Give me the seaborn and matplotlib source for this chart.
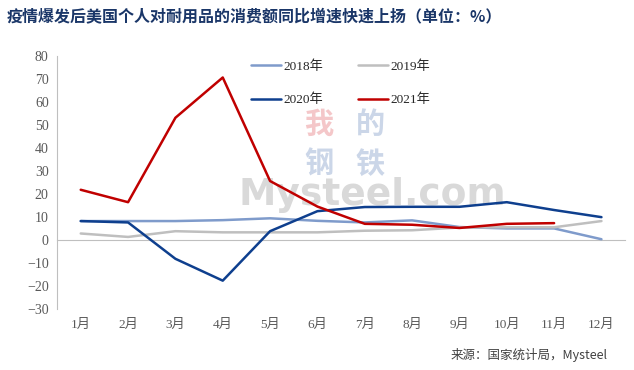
import pandas as pd
import seaborn as sns
import matplotlib.pyplot as plt
import matplotlib.transforms as mtransforms

# monthly yoy growth of US durable goods consumption (%)
months = ["1月", "2月", "3月", "4月", "5月", "6月", "7月", "8月", "9月", "10月", "11月", "12月"]
y2018 = [8.2, 8.2, 8.2, 8.6, 9.4, 8.3, 7.6, 8.5, 5.6, 5.0, 5.0, 0.3]
y2019 = [2.8, 1.3, 3.8, 3.3, 3.3, 3.3, 4.0, 4.2, 5.4, 5.5, 5.5, 8.2]
y2020 = [8.2, 7.6, -8.2, -17.7, 3.8, 12.5, 14.3, 14.4, 14.4, 16.4, 13.0, 9.9]
y2021 = [21.8, 16.4, 53.1, 70.6, 25.6, 14.5, 7.0, 6.6, 5.2, 7.0, 7.3]
series_names = ["2018年", "2019年", "2020年", "2021年"]
colors = ["#7F9BCB", "#BFBFBF", "#0E3F8E", "#C00000"]

rows = []
for name, vals in zip(series_names, [y2018, y2019, y2020, y2021]):
    for i, v in enumerate(vals):
        rows.append({"month": i, "value": v, "year": name})
df = pd.DataFrame(rows)

sns.set_style("white")
plt.rcParams['font.family'] = ['Liberation Serif', 'Noto Sans CJK SC', 'DejaVu Sans']

fig = plt.figure(figsize=(6.34, 3.70), dpi=100)
ax = fig.add_axes([0.09, 0.165, 0.896, 0.684])

# faint watermark
ax.text(0.555, 0.45, "Mysteel.com", transform=ax.transAxes, fontsize=27, color="#D9D9D9",
        fontweight="bold", family=["DejaVu Sans"], ha="center", va="center", zorder=0)
for ch, xx, yy, c in [("我", 0.461, 0.73, "#F4C7C9"), ("的", 0.551, 0.73, "#CBD6E8"),
                      ("钢", 0.461, 0.575, "#CBD6E8"), ("铁", 0.551, 0.575, "#CBD6E8")]:
    ax.text(xx, yy, ch, transform=ax.transAxes, fontsize=21, color=c, fontweight="bold",
            family=["Noto Sans CJK SC"], ha="center", va="center", zorder=0)

sns.lineplot(data=df, x="month", y="value", hue="year", palette=colors,
             linewidth=1.8, ax=ax, zorder=3)

ax.set_xlim(-0.5, 11.5)
ax.set_ylim(-30, 80)
ax.set_yticks(range(-30, 81, 10))
ax.set_xlabel("")
ax.set_ylabel("")

for s in ["top", "right"]:
    ax.spines[s].set_visible(False)
ax.spines["left"].set_color("#BFBFBF")
ax.spines["bottom"].set_color("#BFBFBF")
ax.spines["bottom"].set_position(("data", 0))

ax.set_xticks([k - 0.5 for k in range(13)])
ax.set_xticklabels([])
ax.tick_params(axis="x", direction="out", length=4, color="#BFBFBF")
ax.tick_params(axis="y", direction="out", length=3, color="#BFBFBF",
               labelsize=10, labelcolor="#595959", pad=3)

trans = mtransforms.blended_transform_factory(ax.transData, ax.transAxes)
for i, m in enumerate(months):
    ax.text(i, -0.065, m, transform=trans, ha="center", va="center",
            fontsize=9.5, color="#595959")

# reorder so rows read 2018/2019 then 2020/2021
handles, labels = ax.get_legend_handles_labels()
order = [0, 2, 1, 3]
ax.legend([handles[k] for k in order], [labels[k] for k in order],
          ncol=2, frameon=False, loc="upper left", bbox_to_anchor=(0.32, 1.03),
          fontsize=9.5, handlelength=2.3, handletextpad=0.2,
          columnspacing=2.6, labelspacing=1.6)

fig.text(0.01, 0.955, "疫情爆发后美国个人对耐用品的消费额同比增速快速上扬（单位：%）",
         fontsize=11.5, fontweight="bold", color="#1A3668",
         family=["Noto Sans CJK SC"], ha="left", va="center")
fig.text(0.958, 0.04, "来源：国家统计局，Mysteel", fontsize=9, color="#404040",
         family=["Noto Sans CJK SC"], ha="right", va="center")

fig.savefig("out.png", dpi=100)
